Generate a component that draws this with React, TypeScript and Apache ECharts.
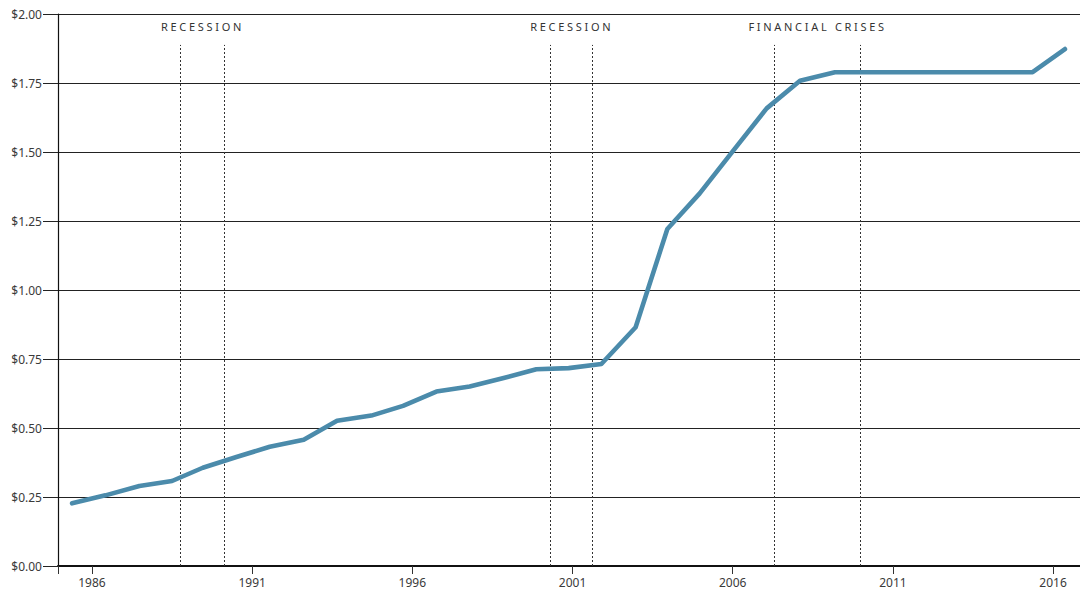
import React, { useEffect, useRef } from "react";
import * as echarts from "echarts";

// Data
const years = [
  1985.38, 1986.42, 1987.48, 1988.5, 1989.46, 1990.51, 1991.55, 1992.61, 1993.65, 1994.72,
  1995.71, 1996.75, 1997.79, 1998.82, 1999.87, 2000.88, 2001.9, 2002.97, 2003.96, 2004.97,
  2006.03, 2007.06, 2008.1, 2009.19, 2010.22, 2011.25, 2012.28, 2013.31, 2014.34, 2015.36,
  2016.37,
];
const values = [
  0.227, 0.256, 0.29, 0.308, 0.356, 0.395, 0.432, 0.457, 0.526, 0.545,
  0.58, 0.632, 0.65, 0.68, 0.713, 0.717, 0.732, 0.865, 1.221, 1.35,
  1.507, 1.658, 1.758, 1.789, 1.789, 1.789, 1.789, 1.789, 1.789, 1.789,
  1.873,
];
const xTickLabels = [1986, 1991, 1996, 2001, 2006, 2011, 2016];
const periodNames = ["RECESSION", "RECESSION", "FINANCIAL CRISES"];
const periodStarts = [1988.76, 2000.32, 2007.31];
const periodEnds = [1990.14, 2001.63, 2009.99];
const yTop = 1.888;

const X_MIN = 1984.94;
const X_MAX = 2016.84;

export default function App() {
  const ref = useRef<HTMLDivElement>(null);
  useEffect(() => {
    if (!ref.current) return;
    const chart = echarts.init(ref.current, null, { renderer: "svg" });
    const font = "Noto Sans";
    const annoFont = "Noto Sans, DejaVu Sans";
    const markLineData: any[] = [];
    periodStarts.forEach((s, i) => {
      [s, periodEnds[i]].forEach((x) => {
        markLineData.push([
          { coord: [x, 0] },
          { coord: [x, yTop] },
        ]);
      });
    });
    const markAreaData = periodNames.map((name, i) => [
      { name, xAxis: periodStarts[i], yAxis: 0 },
      { xAxis: periodEnds[i], yAxis: yTop },
    ]);
    chart.setOption({
      animation: false,
      backgroundColor: "#ffffff",
      grid: { left: 58, right: 0, top: 14, bottom: 28, containLabel: false },
      xAxis: {
        type: "value",
        min: X_MIN,
        max: X_MAX,
        splitLine: { show: false },
        axisLine: { show: true, lineStyle: { color: "#111", width: 2 } },
        axisTick: {
          show: true,
          length: 8,
          lineStyle: { color: "#333", width: 1 },
          customValues: [X_MIN, ...xTickLabels],
        },
        axisLabel: {
          customValues: xTickLabels,
          formatter: (v: number) => String(Math.round(v)),
          color: "#3a3a3a",
          fontSize: 12,
          fontFamily: font,
          margin: 10,
        },
      },
      yAxis: {
        type: "value",
        min: 0,
        max: 2,
        interval: 0.25,
        axisLine: { show: true, lineStyle: { color: "#111", width: 1.2 } },
        axisTick: { show: true, length: 15, lineStyle: { color: "#222", width: 1 } },
        axisLabel: {
          formatter: (v: number) => "$" + v.toFixed(2),
          color: "#3a3a3a",
          fontSize: 12,
          fontFamily: font,
          margin: 16,
        },
        splitLine: { show: true, lineStyle: { color: "#222", width: 1 } },
      },
      series: [
        {
          type: "line",
          data: years.map((y, i) => [y, values[i]]),
          symbol: "none",
          lineStyle: { color: "#4b8bab", width: 4.6, cap: "round", join: "round" },
          z: 5,
          markLine: {
            silent: true,
            symbol: "none",
            label: { show: false },
            lineStyle: { color: "#333", width: 1, type: [2, 2] },
            data: markLineData,
          },
          markArea: {
            silent: true,
            itemStyle: { color: "rgba(0,0,0,0)" },
            label: {
              show: true,
              position: "top",
              distance: 13,
              color: "#333",
              fontSize: 11,
              fontFamily: annoFont,
            },
            data: markAreaData,
          },
        },
      ],
    });
    return () => chart.dispose();
  }, []);
  return (
    <>
      <style>{`#chartbox text[style*="DejaVu"]{letter-spacing:2.7px;}`}</style>
      <div
        id="chartbox"
        ref={ref}
        style={{ position: "fixed", left: 0, top: 0, width: 1080, height: 594 }}
      />
    </>
  );
}
